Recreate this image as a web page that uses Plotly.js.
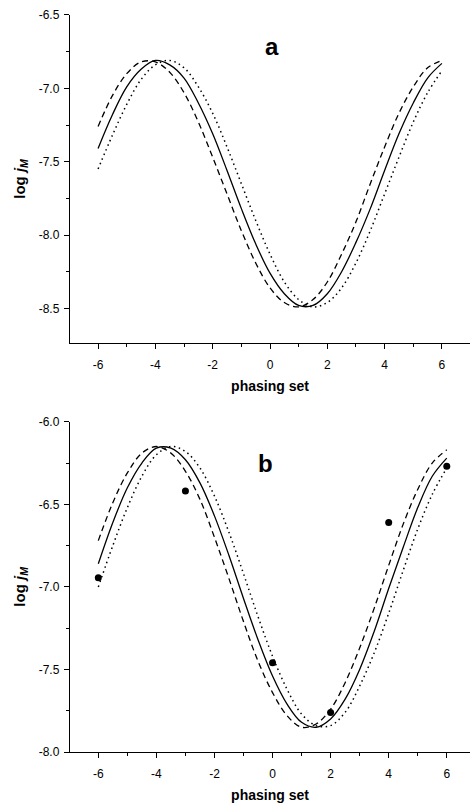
<!DOCTYPE html>
<html>
<head>
<meta charset="utf-8">
<script src="https://cdn.plot.ly/plotly-3.0.1.min.js"></script>
<style>
html, body { margin: 0; padding: 0; background: #fff; }
#chart { width: 470px; height: 805px; }
</style>
</head>
<body>
<div id="chart"></div>
<script>
// phasing set positions used for the fitted curves
const phasingSet = [-6, -5.5, -5, -4.5, -4, -3.5, -3, -2.5, -2, -1.5, -1, -0.5, 0,
                    0.5, 1, 1.5, 2, 2.5, 3, 3.5, 4, 4.5, 5, 5.5, 6];

// panel a: three fitted curves (log jM)
const aSolid  = [-7.41, -7.18, -6.99, -6.87, -6.81, -6.84, -6.93, -7.10, -7.31, -7.56, -7.82, -8.06, -8.26,
                 -8.40, -8.48, -8.48, -8.40, -8.25, -8.05, -7.82, -7.56, -7.31, -7.10, -6.93, -6.83];
const aDashed = [-7.26, -7.05, -6.90, -6.82, -6.82, -6.89, -7.03, -7.23, -7.47, -7.72, -7.97, -8.19, -8.36,
                 -8.46, -8.49, -8.44, -8.32, -8.13, -7.91, -7.65, -7.40, -7.17, -6.99, -6.86, -6.81];
const aDotted = [-7.55, -7.32, -7.11, -6.94, -6.84, -6.81, -6.86, -6.99, -7.17, -7.40, -7.65, -7.90, -8.13,
                 -8.32, -8.44, -8.49, -8.46, -8.36, -8.19, -7.97, -7.72, -7.47, -7.23, -7.03, -6.88];

// panel b: three fitted curves (log jM)
const bSolid  = [-6.86, -6.61, -6.40, -6.25, -6.16, -6.16, -6.23, -6.37, -6.57, -6.81, -7.07, -7.32, -7.54,
                 -7.71, -7.82, -7.85, -7.80, -7.68, -7.50, -7.27, -7.01, -6.76, -6.52, -6.33, -6.22];
const bDashed = [-6.72, -6.49, -6.31, -6.19, -6.15, -6.19, -6.30, -6.47, -6.70, -6.95, -7.21, -7.45, -7.64,
                 -7.78, -7.85, -7.83, -7.74, -7.58, -7.37, -7.13, -6.87, -6.62, -6.41, -6.25, -6.17];
const bDotted = [-7.00, -6.75, -6.52, -6.33, -6.20, -6.15, -6.18, -6.28, -6.45, -6.67, -6.92, -7.18, -7.42,
                 -7.62, -7.77, -7.84, -7.84, -7.76, -7.60, -7.40, -7.16, -6.90, -6.65, -6.44, -6.28];

// panel b: measured points
const bPointX = [-6, -3, 0, 2, 4, 6];
const bPointY = [-6.945, -6.42, -7.46, -7.76, -6.61, -6.27];

// tick labels
const xTickVals = [-6, -4, -2, 0, 2, 4, 6];
const xTickText = ['-6', '-4', '-2', '0', '2', '4', '6'];
const aYTickVals = [-6.5, -7.0, -7.5, -8.0, -8.5];
const aYTickText = ['-6.5', '-7.0', '-7.5', '-8.0', '-8.5'];
const bYTickVals = [-6.0, -6.5, -7.0, -7.5, -8.0];
const bYTickText = ['-6.0', '-6.5', '-7.0', '-7.5', '-8.0'];

const FONT = 'Liberation Sans, Arial, Helvetica, sans-serif';

function curve(y, xa, ya, style) {
  const line = { color: '#000', width: 1.3, shape: 'spline', smoothing: 1 };
  if (style === 'dash') line.dash = '6px,4px';
  if (style === 'dot') { line.dash = '1.5px,3.5px'; line.width = 1.5; }
  return { type: 'scatter', mode: 'lines', x: phasingSet, y: y, xaxis: xa, yaxis: ya,
           line: line, hoverinfo: 'skip', showlegend: false };
}

const data = [
  curve(aSolid, 'x', 'y', 'solid'),
  curve(aDashed, 'x', 'y', 'dash'),
  curve(aDotted, 'x', 'y', 'dot'),
  curve(bSolid, 'x2', 'y2', 'solid'),
  curve(bDashed, 'x2', 'y2', 'dash'),
  curve(bDotted, 'x2', 'y2', 'dot'),
  { type: 'scatter', mode: 'markers', x: bPointX, y: bPointY, xaxis: 'x2', yaxis: 'y2',
    marker: { color: '#000', size: 7 }, showlegend: false, hoverinfo: 'skip' }
];

function xAxis(anchor, range) {
  return {
    anchor: anchor, domain: [0, 1], range: range,
    showline: true, linecolor: '#000', linewidth: 1.2,
    ticks: 'outside', ticklen: 5, tickwidth: 1, tickcolor: '#000',
    tickmode: 'array', tickvals: xTickVals, ticktext: xTickText,
    ticklabelstandoff: 5,
    minor: { tickmode: 'linear', tick0: -7, dtick: 1, ticks: 'outside', ticklen: 3, tickwidth: 1, tickcolor: '#000' },
    showgrid: false, zeroline: false,
    tickfont: { family: FONT, size: 12, color: '#000' },
    title: { text: 'phasing set', standoff: 10,
             font: { family: FONT, size: 14, color: '#000', weight: 700 } }
  };
}

function yAxis(anchor, domain, range, vals, text) {
  return {
    anchor: anchor, domain: domain, range: range,
    showline: true, linecolor: '#000', linewidth: 1.2,
    ticks: 'outside', ticklen: 5, tickwidth: 1, tickcolor: '#000',
    tickmode: 'array', tickvals: vals, ticktext: text,
    ticklabelstandoff: 2,
    minor: { tickmode: 'linear', tick0: -6, dtick: 0.25, ticks: 'outside', ticklen: 3, tickwidth: 1, tickcolor: '#000' },
    showgrid: false, zeroline: false,
    tickfont: { family: FONT, size: 12, color: '#000' },
    title: { text: 'log <i>j</i><sub><i>M</i></sub>', standoff: 9,
             font: { family: FONT, size: 15, color: '#000', weight: 700 } }
  };
}

const layout = {
  width: 470, height: 805,
  margin: { l: 70, r: 0, t: 0, b: 0 },
  paper_bgcolor: '#fff', plot_bgcolor: '#fff',
  font: { family: FONT, color: '#000' },
  showlegend: false,
  xaxis: xAxis('y', [-6.98, 6.98]),
  yaxis: yAxis('x', [0.5739, 0.9814], [-8.736, -6.5], aYTickVals, aYTickText),
  xaxis2: xAxis('y2', [-6.975, 6.80]),
  yaxis2: yAxis('x2', [0.0658, 0.4761], [-8.0, -6.0], bYTickVals, bYTickText),
  annotations: [
    { text: 'a', xref: 'paper', yref: 'paper', x: 0.504, y: 0.942, showarrow: false,
      xanchor: 'center', yanchor: 'middle', font: { family: FONT, size: 24, color: '#000', weight: 700 } },
    { text: 'b', xref: 'paper', yref: 'paper', x: 0.4875, y: 0.4248, showarrow: false,
      xanchor: 'center', yanchor: 'middle', font: { family: FONT, size: 24, color: '#000', weight: 700 } }
  ]
};

Plotly.newPlot('chart', data, layout, { staticPlot: true, displayModeBar: false });
</script>
</body>
</html>
